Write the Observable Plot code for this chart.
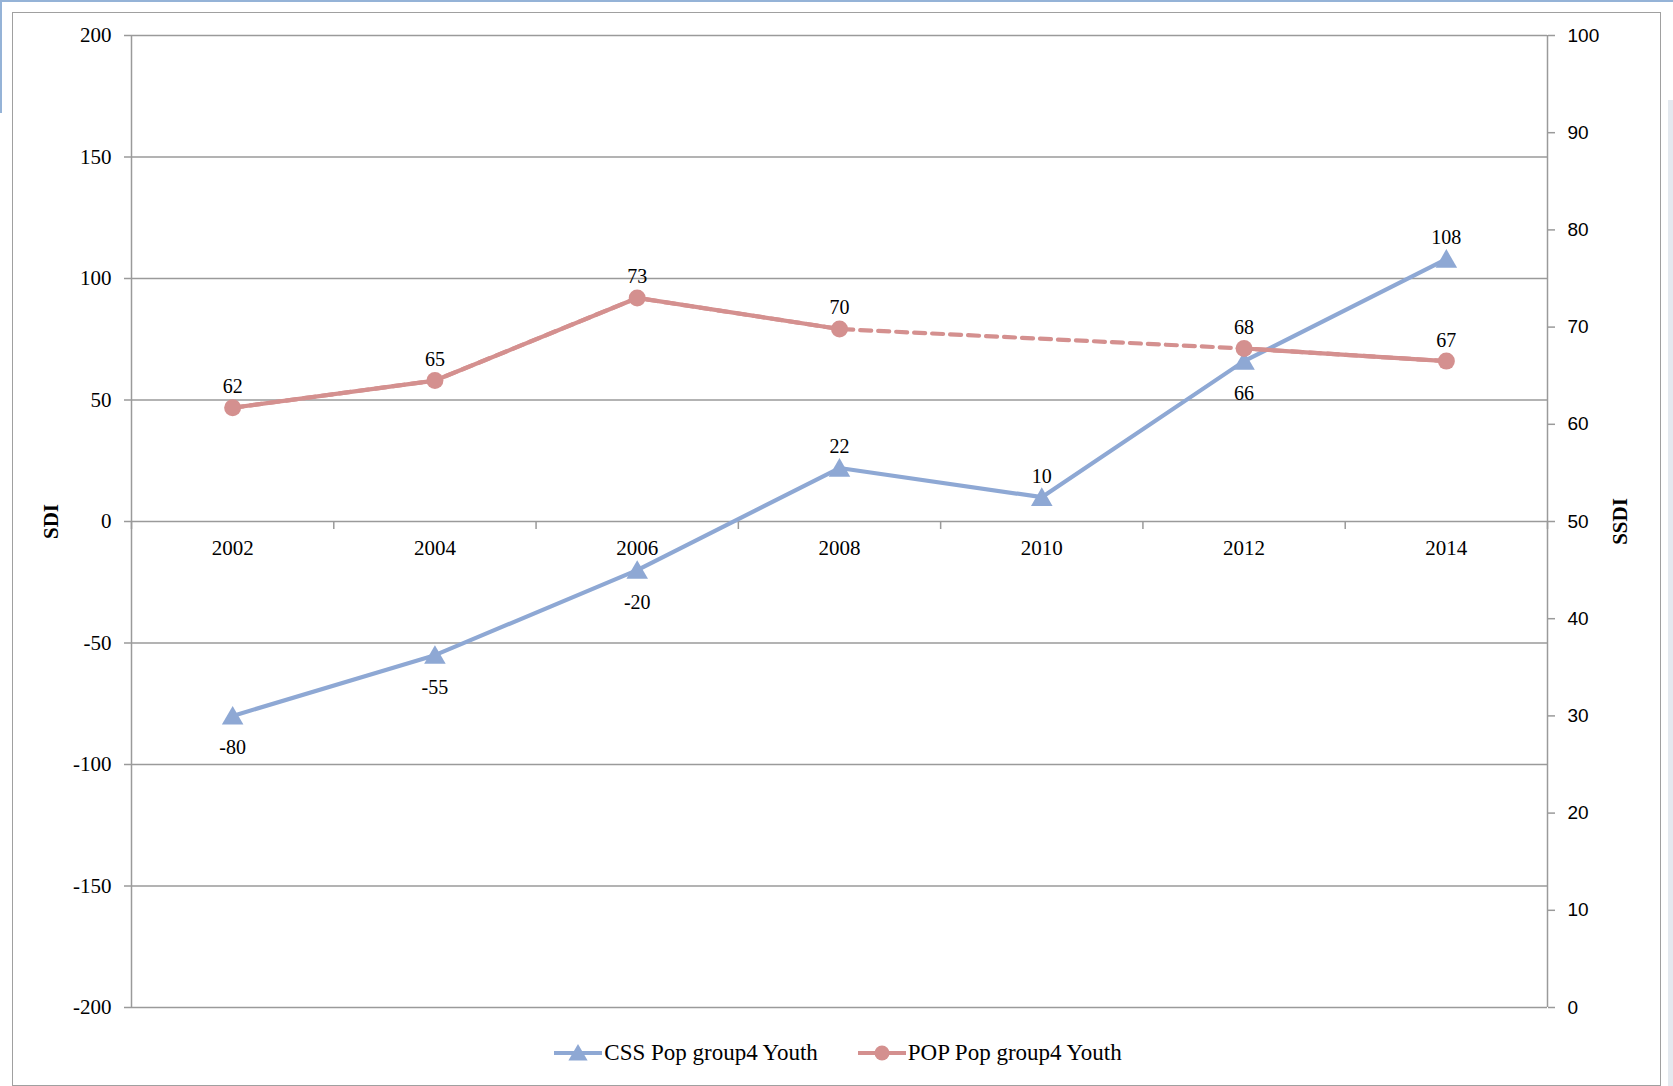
<!DOCTYPE html>
<html>
<head>
<meta charset="utf-8">
<script src="https://cdn.jsdelivr.net/npm/d3@7"></script>
<script src="https://cdn.jsdelivr.net/npm/@observablehq/plot@0.6"></script>
<style>
  html, body { margin: 0; padding: 0; background: #fff; }
  #page { position: relative; width: 1673px; height: 1086px; overflow: hidden; background: #fff; }
  #topbar { position: absolute; left: 0; top: 0; width: 1673px; height: 2px; background: #95B3D7; }
  #leftbar { position: absolute; left: 0; top: 0; width: 2px; height: 113px; background: #95B3D7; }
  #rightbar { position: absolute; left: 1668px; top: 100px; width: 5px; height: 986px; background: #e4e9ef; }
  #frame { position: absolute; left: 12px; top: 12px; width: 1649px; height: 1074px; box-sizing: border-box; border: 1.5px solid #a0a0a0; }
  #chart { position: absolute; left: 0; top: 0; }
  #legend { position: absolute; left: 0; top: 1040px; width: 1676px; height: 26px; display: flex; justify-content: center; align-items: center; gap: 40px;
            font-family: "Liberation Serif", serif; font-size: 23px; color: #000; }
  .item { display: flex; align-items: center; }
  .item svg { margin-right: 2px; }
</style>
</head>
<body>
<div id="page">
  <div id="topbar"></div>
  <div id="leftbar"></div>
  <div id="rightbar"></div>
  <div id="frame"></div>
  <div id="chart"></div>
  <div id="legend"></div>
</div>
<script>
// ---- data ----
const years = [2002, 2004, 2006, 2008, 2010, 2012, 2014];
const cssValues = [-80, -55, -20, 22, 10, 66, 108];              // CSS Pop group4 Youth (left axis, SDI)
const popValues = [61.7, 64.5, 73, 69.8, null, 67.8, 66.5];       // POP Pop group4 Youth (right axis, SSDI), 2010 missing
const leftTicks = [-200, -150, -100, -50, 0, 50, 100, 150, 200];
const rightTicks = [0, 10, 20, 30, 40, 50, 60, 70, 80, 90, 100];
const seriesNames = ["CSS Pop group4 Youth", "POP Pop group4 Youth"];
const axisTitles = ["SDI", "SSDI"];

// ---- style ----
const blue = "#8EA8D4";
const red = "#D4908F";
const grid = "#9a9a9a";

// map right axis (0..100) onto left axis (-200..200)
const toLeft = v => (v - 50) * 4;
const fromLeft = y => y / 4 + 50;

const css = years.map((x, i) => ({x, v: cssValues[i]}));
const pop = years.map((x, i) => ({x, v: popValues[i]}));
const popDefined = pop.filter(d => d.v != null);
const labelBelowCss = new Set([2012]); // label placement as in reference

const step = years[1] - years[0];
const xDomain = [years[0] - step / 2, years[years.length - 1] + step / 2];
const boundaries = d3.range(xDomain[0], xDomain[1] + 0.001, step);

const chart = Plot.plot({
  width: 1673,
  height: 1030,
  marginLeft: 131,
  marginRight: 126,
  marginTop: 35,
  marginBottom: 23,
  style: {background: "transparent", fontFamily: "Liberation Serif, serif", color: "#000"},
  x: {type: "linear", domain: xDomain, axis: null},
  y: {domain: [-200, 200], axis: null},
  marks: [
    Plot.gridY(leftTicks, {stroke: grid, strokeOpacity: 1, strokeWidth: 1.5}),
    Plot.ruleX([xDomain[0], xDomain[1]], {stroke: grid, strokeWidth: 1.5}),
    Plot.ruleX(boundaries, {y1: 0, y2: -3.3, stroke: grid, strokeWidth: 1.5}),
    Plot.axisY(leftTicks, {anchor: "left", tickSize: 7, tickPadding: 13, stroke: grid, strokeWidth: 1.5,
      tickFormat: d => String(d), fontSize: 21, fontFamily: "Liberation Serif", fill: "#000", label: null}),
    Plot.axisY(rightTicks.map(toLeft), {anchor: "right", tickSize: 7, tickPadding: 13, stroke: grid, strokeWidth: 1.5,
      tickFormat: d => String(fromLeft(d)), fontSize: 19, fontFamily: "Liberation Sans", fill: "#000", label: null}),
    Plot.text(years, {x: d => d, y: 0, dy: 27, text: d => String(d), fontSize: 21, fill: "#000"}),
    Plot.text([axisTitles[0]], {frameAnchor: "left", textAnchor: "middle", dx: -80, rotate: -90, text: d => d, fontSize: 21, fontWeight: "bold", fill: "#000"}),
    Plot.text([axisTitles[1]], {frameAnchor: "right", textAnchor: "middle", dx: 73, rotate: -90, text: d => d, fontSize: 21, fontWeight: "bold", fill: "#000"}),

    // CSS series
    Plot.line(css, {x: "x", y: "v", stroke: blue, strokeWidth: 4.2}),
    Plot.dot(css, {x: "x", y: "v", symbol: "triangle", r: 8, dy: 2.5, fill: blue, stroke: null}),
    Plot.text(css, {x: "x", y: "v", text: d => String(d.v), fontSize: 20, fill: "#000",
      filter: d => !(d.v < 0 || labelBelowCss.has(d.x)), dy: -21}),
    Plot.text(css, {x: "x", y: "v", text: d => String(d.v), fontSize: 20, fill: "#000",
      filter: d => (d.v < 0 || labelBelowCss.has(d.x)), dy: 32}),

    // POP series
    Plot.line(popDefined, {x: "x", y: d => toLeft(d.v), stroke: red, strokeWidth: 4.2, strokeDasharray: "11,7"}),
    Plot.line(pop, {x: "x", y: d => d.v == null ? NaN : toLeft(d.v), stroke: red, strokeWidth: 4.2}),
    Plot.dot(popDefined, {x: "x", y: d => toLeft(d.v), r: 8.5, fill: red, stroke: null}),
    Plot.text(popDefined, {x: "x", y: d => toLeft(d.v), text: d => String(Math.round(d.v)), fontSize: 20, fill: "#000", dy: -21})
  ]
});
document.getElementById("chart").appendChild(chart);

// ---- legend ----
const legend = d3.select("#legend");
const items = [
  {name: seriesNames[0], color: blue, symbol: "triangle"},
  {name: seriesNames[1], color: red, symbol: "circle"}
];
for (const it of items) {
  const div = legend.append("div").attr("class", "item");
  const svg = div.append("svg").attr("width", 48).attr("height", 22);
  svg.append("line").attr("x1", 0).attr("x2", 48).attr("y1", 11).attr("y2", 11)
    .attr("stroke", it.color).attr("stroke-width", 4.2);
  if (it.symbol === "circle") {
    svg.append("circle").attr("cx", 24).attr("cy", 11).attr("r", 7.5).attr("fill", it.color);
  } else {
    svg.append("path").attr("transform", "translate(24,13)")
      .attr("d", d3.symbol(d3.symbolTriangle, 160)()).attr("fill", it.color);
  }
  div.append("span").text(it.name);
}
</script>
</body>
</html>
